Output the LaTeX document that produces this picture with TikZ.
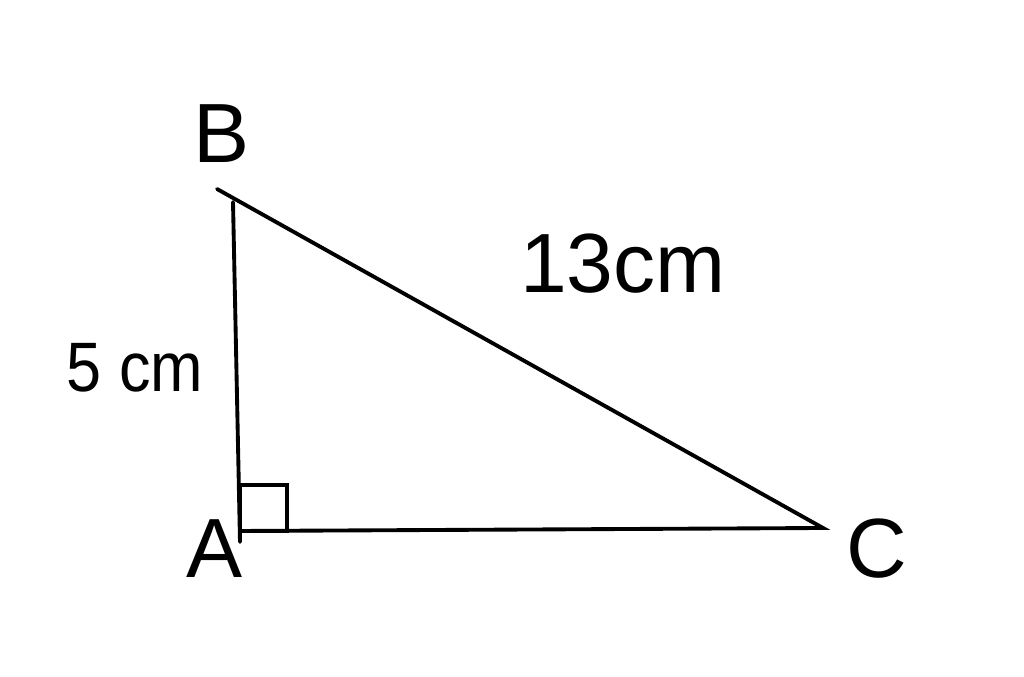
\documentclass[tikz,border=0pt]{standalone}
\usepackage{fontspec}
\setmainfont{Liberation Sans}
\begin{document}
\begin{tikzpicture}[x=0.01cm,y=-0.01cm,
  edge/.style={line width=1.1pt,line cap=round,line join=miter},
  bigl/.style={anchor=base,inner sep=0pt,font=\fontsize{23.9}{28}\selectfont},
  smalll/.style={anchor=base,inner sep=0pt,font=\fontsize{19.9}{24}\selectfont}]
\useasboundingbox (0,0) rectangle (1024,677);
\coordinate (Btop) at (217,189);
\coordinate (Bleg) at (233,202);
\coordinate (Aleg) at (240,542);
\coordinate (Abase) at (240,531);
\coordinate (C) at (823,528);
\draw[edge] (Btop) -- (C) -- (Abase);
\draw[edge] (Bleg) -- (Aleg);
\draw[edge] (240,485) rectangle (287,531);
\node[bigl] (lB) at (222,163) {B};
\node[bigl] (lA) at (215,578) {A};
\node[bigl] (lC) at (877,578) {C};
\node[bigl] (l13) at (623,293) {13cm};
\node[smalll,xscale=0.9] (l5) at (135,392) {5 cm};
\end{tikzpicture}
\end{document}
